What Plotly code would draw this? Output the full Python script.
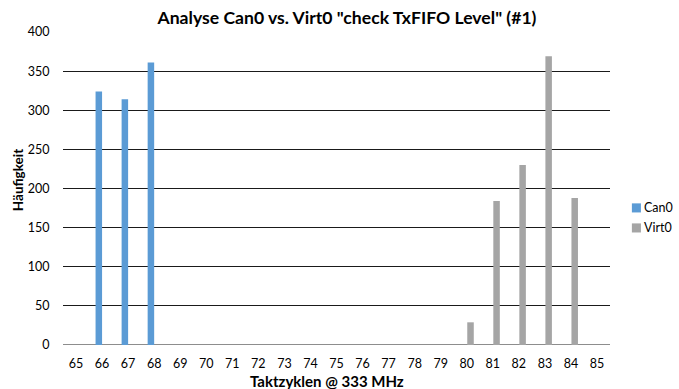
import plotly.graph_objects as go

# Cycle counts on the x axis (categorical, 65..85)
categories = [str(c) for c in range(65, 86)]

can0_x = ["66", "67", "68"]
can0_y = [324, 314, 361]

virt0_x = ["80", "81", "82", "83", "84"]
virt0_y = [29, 184, 230, 369, 188]

y_ticks = [0, 50, 100, 150, 200, 250, 300, 350, 400]

series_names = ["Can0", "Virt0"]
series_colors = ["#5B9BD5", "#A5A5A5"]

FONT = "Lato, 'Open Sans', sans-serif"
BAR_W = 0.25  # bar width in category units

fig = go.Figure()
# Can0 sits just left of each category centre, Virt0 just right
fig.add_trace(go.Bar(name=series_names[0], x=can0_x, y=can0_y,
                     marker_color=series_colors[0], marker_line_width=0,
                     width=BAR_W, offset=-BAR_W, showlegend=False))
fig.add_trace(go.Bar(name=series_names[1], x=virt0_x, y=virt0_y,
                     marker_color=series_colors[1], marker_line_width=0,
                     width=BAR_W, offset=0.02, showlegend=False))

fig.update_layout(
    width=679, height=389,
    margin=dict(l=63, r=69, t=32, b=44, autoexpand=False),
    paper_bgcolor="white", plot_bgcolor="white",
    barmode="overlay",
    font=dict(family=FONT, size=12, color="#000000"),
    title=dict(text='<b>Analyse Can0 vs. Virt0 "check TxFIFO Level" (#1)</b>',
               x=0.511, xanchor="center", y=0.955, yanchor="middle",
               font=dict(family=FONT, size=17.6, color="#000000")),
    xaxis=dict(type="category", categoryorder="array", categoryarray=categories,
               range=[-0.5, len(categories) - 0.5],
               showgrid=False, showline=False, zeroline=False,
               ticks="outside", ticklen=7, tickcolor="rgba(0,0,0,0)",
               tickfont=dict(size=12.5, color="#000000")),
    yaxis=dict(range=[0, 400], tickvals=y_ticks, showgrid=True,
               gridcolor="#1a1a1a", gridwidth=1, zeroline=False, showline=False,
               ticks="outside", ticklen=10, tickcolor="rgba(0,0,0,0)",
               tickfont=dict(size=12.5, color="#000000")),
)

# Axis titles
fig.add_annotation(xref="paper", yref="paper", x=0.482, y=-0.115,
                   xanchor="center", yanchor="middle", showarrow=False,
                   text="<b>Taktzyklen @ 333 MHz</b>",
                   font=dict(family=FONT, size=15, color="#000000"))
fig.add_annotation(xref="paper", yref="paper", x=-0.082, y=0.527,
                   xanchor="center", yanchor="middle", showarrow=False,
                   textangle=-90, text="<b>Häufigkeit</b>",
                   font=dict(family=FONT, size=13.5, color="#000000"))

# Baseline drawn like the other grid lines
fig.add_shape(type="line", xref="paper", yref="y", x0=0, x1=1, y0=0, y1=0,
              line=dict(color="#1a1a1a", width=1), layer="below")

# Compact legend to the right of the plot area: square swatch + label
legend_rows = [0.438, 0.374]  # paper y of each row centre
swatch = 0.0165               # swatch width in paper x units
for name, color, yc in zip(series_names, series_colors, legend_rows):
    fig.add_shape(type="rect", xref="paper", yref="paper",
                  x0=1.040, x1=1.040 + swatch, y0=yc - 0.0145, y1=yc + 0.0145,
                  fillcolor=color, line_width=0)
    fig.add_annotation(xref="paper", yref="paper", x=1.058, y=yc,
                       xanchor="left", yanchor="middle", showarrow=False,
                       text=name, font=dict(family=FONT, size=12.5, color="#000000"))

fig.write_html("out.html")
